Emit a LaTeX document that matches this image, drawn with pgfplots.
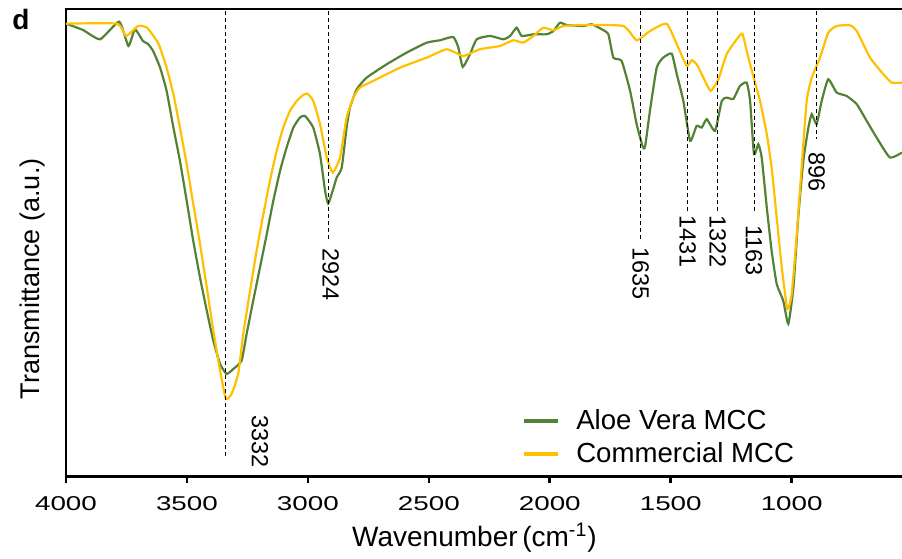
\documentclass[border=0pt]{standalone}
\usepackage{fontspec}
\setmainfont{Liberation Sans}
\newfontfamily\tickfont[FakeStretch=1.39]{Liberation Sans}
\usepackage{pgfplots}
\pgfplotsset{compat=1.18}
\definecolor{aloe}{HTML}{548235}
\definecolor{comm}{HTML}{FFC000}

\begin{document}
\begin{tikzpicture}
\begin{axis}[
  name=ax, at={(0,0)}, anchor=south west,
  scale only axis, width=418pt, height=233.75pt,
  x dir=reverse, xmin=544, xmax=4000, ymin=0, ymax=468,
  axis x line*=bottom, axis y line*=left,
  axis line style={line width=1.3pt},
  xtick={1000,1500,...,4000}, ytick=\empty,
  tick align=outside, major tick length=3pt,
  tick style={line width=1.3pt, black},
  xticklabel style={font=\tickfont\fontsize{10}{12}\selectfont, anchor=north, inner sep=0pt, yshift=-7pt},
  /pgf/number format/1000 sep={},
  /pgf/number format/assume math mode=true,
  xlabel={Wavenumber\,(cm\textsuperscript{-1})},
  xlabel style={at={(axis description cs:0.4886,-0.1502)}, anchor=base, inner sep=0pt, font=\fontsize{14}{16}\selectfont},
  ylabel={Transmittance (a.u.)},
  ylabel style={at={(axis description cs:-0.0395,0.423)}, anchor=center, inner sep=0pt, font=\fontsize{13.5}{16}\selectfont},
  clip mode=individual,
  legend style={at={(0.545,0.1437)}, anchor=north west, draw=none, fill=none,
    inner sep=0pt, row sep=5pt, font=\fontsize{13.8}{16}\selectfont,
    nodes={inner sep=0pt}},
  legend cell align=left,
  legend image code/.code={\draw[#1, line width=2.2pt] (0pt,0pt) -- (16.7pt,0pt); \path (25.5pt,0pt);},
]
\addplot[aloe, line width=1.1pt, smooth, tension=0.3] coordinates {
(4000,453.3)(3930,447)(3859,437.7)(3780,455.3)(3742,431)(3715,447.7)(3682,436)(3661,433)
(3640,426)(3611,409.3)(3584,386)(3556,349.3)(3529,316)(3501,276)(3474,236)(3446,199.3)
(3418,166)(3391,136)(3363,112.7)(3336,102.7)(3308,107.7)(3274,116)(3253,143)(3226,176)
(3198,209.3)(3170,242.7)(3143,276)(3115,306)(3088,329.3)(3060,349.3)(3033,359.3)(3012,361)
(2978,349.3)(2950,322.7)(2929,286)(2916,273.3)(2895,288)(2881,299.3)(2860,309.3)(2840,349.3)
(2826,369.3)(2798,387.7)(2757,399.3)(2674,412.7)(2592,424.3)(2509,434.3)(2454,436.7)(2399,440)
(2378,429.3)(2360,410)(2330,422.7)(2302,437.7)(2247,441)(2192,437.7)(2164,441)(2137,449.3)
(2116,441)(2068,442.7)(2013,442.7)(1985,446)(1958,454.3)(1930,452)(1861,451)(1827,452.7)
(1785,447.7)(1758,442.7)(1737,419.3)(1703,416)(1668,386)(1641,352.7)(1616,330.3)(1606,330.3)
(1586,366)(1558,409.3)(1531,419.3)(1496,423.3)(1475,402.7)(1448,376)(1420,336)(1393,351)
(1372,349.3)(1351,357.7)(1317,346)(1289,376)(1269,379.3)(1241,378)(1214,391)(1186,394.3)
(1172,376)(1156,322.7)(1138,332.7)(1124,319.3)(1103,269.3)(1083,226)(1062,192.7)(1035,176)
(1014,152.7)(993,189.3)(973,259.3)(952,316)(931,349.3)(917,362.7)(897,352.7)(876,376)
(849,397.7)(814,384.3)(773,381)(731,372.7)(690,356)(649,339.3)(594,319.3)(544,324.3)
};
\addlegendentry{Aloe Vera MCC}
\addplot[comm, line width=1.1pt, smooth, tension=0.3] coordinates {
(4000,453.3)(3789,453.3)(3752,441)(3702,451)(3665,449.3)(3624,436)(3611,429.3)(3584,409.3)
(3556,382.7)(3529,349.3)(3501,312.7)(3474,273)(3446,233)(3418,189.3)(3391,146)(3363,106)
(3339,77.7)(3315,83)(3288,103)(3267,143)(3239,186)(3212,226)(3184,262.7)(3157,296)
(3129,326)(3102,349.3)(3074,366)(3046,376)(3019,382)(3002,383.3)(2978,376)(2950,353)
(2922,319.3)(2897,304.3)(2867,319.3)(2840,359.3)(2812,379.3)(2785,389.3)(2730,396)(2619,409.3)
(2509,419.3)(2426,427.7)(2358,421)(2289,427.7)(2206,431)(2151,436.7)(2110,434.3)(2068,441)
(2027,449.3)(1985,446.7)(1944,451)(1861,452)(1696,451)(1641,436.7)(1586,446)(1517,453.3)
(1475,432.7)(1434,411)(1413,416.7)(1393,412.7)(1365,399.3)(1335,386)(1303,397.7)(1269,422.7)
(1227,437.7)(1204,443.3)(1186,426)(1159,401)(1131,376)(1103,342.7)(1083,309.3)(1062,259.3)
(1041,209.3)(1018,167.7)(1000,182.7)(979,242.7)(959,309.3)(938,376)(917,399.3)(883,419.3)
(849,444.3)(814,451)(759,451.7)(731,446)(676,419.3)(621,402.7)(587,394.3)(544,394.3)
};
\addlegendentry{Commercial MCC}
% peak markers
\foreach \px/\py in {3340/18, 2916/238, 1623/236, 1430/266, 1306/266, 1154/266, 897/338}{
  \edef\tmp{\noexpand\draw[black, line width=0.5pt, dash pattern=on 2pt off 1.5pt] (axis cs:\px,466) -- (axis cs:\px,\py);}
  \tmp
}
\foreach \lx/\ly/\lt in {3198/61.5/3332, 2906/228.5/2924, 1624/229.5/1635, 1430/261.5/1431,
  1306/261.5/1322, 1156/251.5/1163, 897/324.5/896}{
  \edef\tmp{\noexpand\node[rotate=-90, anchor=west, inner sep=0pt, font=\noexpand\fontsize{11.7}{14}\noexpand\selectfont] at (axis cs:\lx,\ly) {\lt};}
  \tmp
}
\end{axis}
\draw[line width=1.3pt] ([xshift=-0.65pt]ax.north west) -- (ax.north east);
\node[anchor=base west, inner sep=0pt, font=\bfseries\fontsize{14}{16}\selectfont,
  xshift=-27pt, yshift=-10.5pt] at (ax.north west) {d};
\pgfresetboundingbox
\path ([xshift=-33pt,yshift=-40.75pt]ax.south west) rectangle ([yshift=4.5pt]ax.north east);
\end{tikzpicture}
\end{document}
